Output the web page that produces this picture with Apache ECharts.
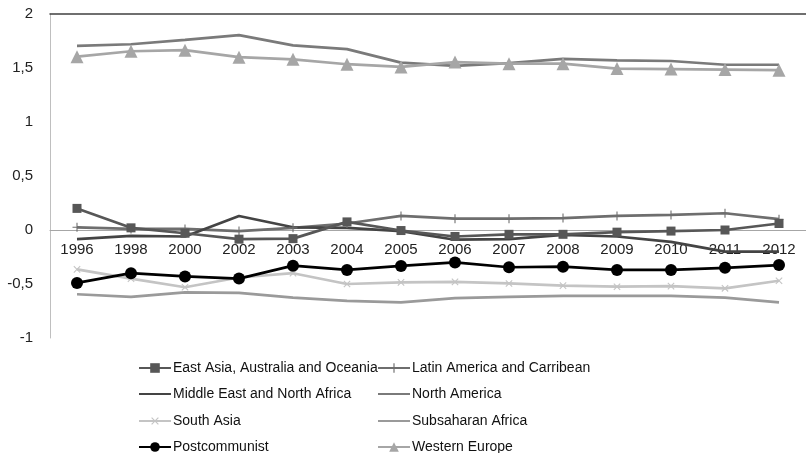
<!DOCTYPE html>
<html>
<head>
<meta charset="utf-8">
<script src="https://cdn.jsdelivr.net/npm/echarts@6/dist/echarts.min.js"></script>
<style>html,body{margin:0;padding:0;background:#fff;}#c{width:806px;height:453px;}</style>
</head>
<body>
<div id="c"></div>
<script>
var years = ['1996','1998','2000','2002','2003','2004','2005','2006','2007','2008','2009','2010','2011','2012'];
var eastAsia = [0.20, 0.02, -0.03, -0.085, -0.08, 0.075, -0.005, -0.06, -0.04, -0.04, -0.02, -0.01, 0.00, 0.06];
var latinAmerica = [0.025, 0.01, 0.01, -0.01, 0.02, 0.06, 0.13, 0.105, 0.105, 0.11, 0.13, 0.14, 0.155, 0.10];
var middleEast = [-0.085, -0.055, -0.06, 0.13, 0.025, 0.02, -0.01, -0.09, -0.085, -0.045, -0.06, -0.11, -0.20, -0.20];
var northAmerica = [1.705, 1.72, 1.76, 1.805, 1.71, 1.675, 1.55, 1.52, 1.545, 1.585, 1.57, 1.565, 1.53, 1.53];
var southAsia = [-0.365, -0.45, -0.53, -0.44, -0.40, -0.50, -0.485, -0.48, -0.495, -0.515, -0.525, -0.52, -0.54, -0.47];
var subsaharan = [-0.595, -0.62, -0.577, -0.583, -0.627, -0.657, -0.67, -0.63, -0.62, -0.61, -0.61, -0.61, -0.627, -0.67];
var postcommunist = [-0.49, -0.40, -0.43, -0.45, -0.33, -0.37, -0.333, -0.30, -0.345, -0.34, -0.37, -0.37, -0.35, -0.325];
var westernEurope = [1.605, 1.655, 1.665, 1.60, 1.58, 1.535, 1.51, 1.555, 1.54, 1.54, 1.495, 1.49, 1.485, 1.48];

var legendCol1 = ['East Asia, Australia and Oceania', 'Middle East and North Africa', 'South Asia', 'Postcommunist'];
var legendCol2 = ['Latin America and Carribean', 'North America', 'Subsaharan Africa', 'Western Europe'];
var plainNames = ['Middle East and North Africa', 'North America', 'Subsaharan Africa'];

var PLUS = 'path://M-1.2,-10L1.2,-10L1.2,10L-1.2,10ZM-10,-1.2L10,-1.2L10,1.2L-10,1.2Z';
var FONT = 'Liberation Sans';

function mk(name, data, color, symbol, size, extra) {
  var s = {
    name: name, type: 'line', data: data,
    lineStyle: { color: color, width: 2.7 },
    itemStyle: { color: color },
    symbol: symbol, symbolSize: size,
    animation: false
  };
  if (extra) for (var k in extra) s[k] = extra[k];
  return s;
}

var legendText = { fontFamily: FONT, fontSize: 14, color: '#111', padding: [0, 0, 0, -3] };
var rowTops = [361, 387, 414, 440];
var legends = [];
function addCol(names, left) {
  names.forEach(function (n, i) {
    var item = plainNames.indexOf(n) >= 0 ? { name: n, itemStyle: { opacity: 0 } } : n;
    legends.push({
      orient: 'horizontal', left: left, top: rowTops[i], padding: 0,
      itemWidth: 32, itemHeight: 12, textStyle: legendText, data: [item]
    });
  });
}
addCol(legendCol1, 138);
addCol(legendCol2, 377);

var chart = echarts.init(document.getElementById('c'));
chart.setOption({
  backgroundColor: '#fff',
  animation: false,
  grid: { left: 50, right: -8, top: 14, bottom: 115, containLabel: false },
  xAxis: [{
    type: 'category', data: years, boundaryGap: true, position: 'bottom', offset: -108,
    axisLine: { onZero: false, lineStyle: { color: '#a6a6a6', width: 1 } },
    axisTick: { show: false },
    axisLabel: { color: '#222', fontFamily: FONT, fontSize: 15, margin: 12, interval: 0 },
    splitLine: { show: false }
  }, {
    type: 'category', data: years, position: 'top', boundaryGap: true,
    axisLine: { onZero: false, lineStyle: { color: '#404040', width: 1.5 } },
    axisTick: { show: false }, axisLabel: { show: false }, splitLine: { show: false }
  }],
  yAxis: {
    type: 'value', min: -1, max: 2, interval: 0.5,
    axisLine: { show: true, onZero: false, lineStyle: { color: '#bfbfbf', width: 1 } },
    axisTick: { show: false },
    splitLine: { show: false },
    axisLabel: {
      color: '#222', fontFamily: FONT, fontSize: 15, margin: 17,
      formatter: function (v) { return String(v).replace('.', ','); }
    }
  },
  legend: legends,
  series: [
    mk('Subsaharan Africa', subsaharan, '#9a9a9a', 'none', 0),
    mk('South Asia', southAsia, '#c4c4c4', PLUS, 9, { symbolRotate: 45 }),
    mk('North America', northAmerica, '#7a7a7a', 'none', 0),
    mk('Western Europe', westernEurope, '#a6a6a6', 'triangle', 13),
    mk('Latin America and Carribean', latinAmerica, '#6e6e6e', PLUS, 9),
    mk('Middle East and North Africa', middleEast, '#444444', 'none', 0),
    mk('East Asia, Australia and Oceania', eastAsia, '#575757', 'rect', 9),
    mk('Postcommunist', postcommunist, '#000000', 'circle', 12)
  ]
});
</script>
</body>
</html>
